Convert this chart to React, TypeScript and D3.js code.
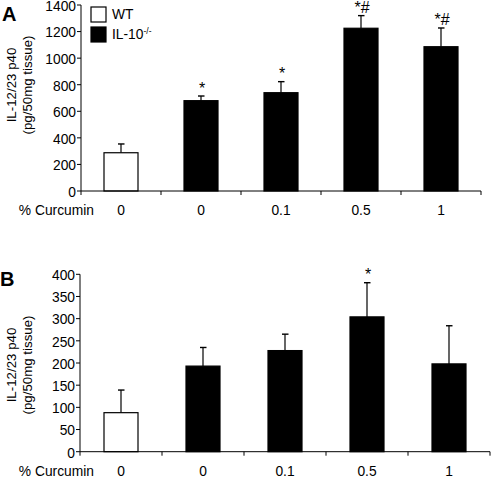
import React from "react";
import * as d3 from "d3";

const categories = ["0", "0", "0.1", "0.5", "1"];
const groups = ["WT", "IL-10", "IL-10", "IL-10", "IL-10"];
const legendItems = ["WT", "IL-10"];

const valuesA = [288, 680, 740, 1225, 1086];
const errorsA = [66, 35, 83, 95, 141];
const marksA = ["", "*", "*", "*#", "*#"];
const ticksA = [0, 200, 400, 600, 800, 1000, 1200, 1400];

const valuesB = [88, 193, 228, 304, 198];
const errorsB = [51, 42, 37, 77, 86];
const marksB = ["", "", "", "*", ""];
const ticksB = [0, 50, 100, 150, 200, 250, 300, 350, 400];

const FONT = "Arial, 'Liberation Sans', Helvetica, sans-serif";
const FS = 13.8;

type PanelProps = {
  letter: string;
  values: number[];
  errors: number[];
  marks: string[];
  ticks: number[];
  yMax: number;
  x0: number;
  x1: number;
  yTop: number;
  yBottom: number;
  labelCenter: number;
  legend?: boolean;
};

function Panel(p: PanelProps) {
  const idx = categories.map((_, i) => String(i));
  const step = (p.x1 - p.x0) / categories.length;
  const barW = 34;
  const pi = 1 - barW / step;
  const x = d3
    .scaleBand<string>()
    .domain(idx)
    .range([p.x0, p.x1])
    .paddingInner(pi)
    .paddingOuter(pi / 2);
  const y = d3.scaleLinear().domain([0, p.yMax]).range([p.yBottom, p.yTop]);
  const labelY = p.yBottom + 19;
  return (
    <g>
      <text x={p.letter === "A" ? 2 : 0} y={p.letter === "A" ? 21 : 286} fontSize={20} fontWeight="bold" fontFamily={FONT}>
        {p.letter}
      </text>
      {/* y label */}
      <g transform={`translate(11,${p.labelCenter}) rotate(-90)`}>
        <text textAnchor="middle" dy="0.35em" fontSize={13.3} fontFamily={FONT}>
          IL-12/23 p40
        </text>
        <text textAnchor="middle" y={16} dy="0.35em" fontSize={13.3} fontFamily={FONT}>
          (pg/50mg tissue)
        </text>
      </g>
      {/* y axis */}
      <line x1={p.x0} x2={p.x0} y1={p.yTop} y2={p.yBottom} stroke="#000" strokeWidth={1} />
      {p.ticks.map((t) => (
        <g key={t}>
          <line x1={p.x0 - 4} x2={p.x0} y1={y(t)} y2={y(t)} stroke="#000" />
          <text x={p.x0 - 5} y={y(t) + 1} dy="0.35em" textAnchor="end" fontSize={FS} fontFamily={FONT}>
            {t}
          </text>
        </g>
      ))}
      {/* bars */}
      {idx.map((k, i) => {
        const bx = x(k)!;
        const cx = bx + x.bandwidth() / 2;
        const top = y(p.values[i]);
        const et = y(p.values[i] + p.errors[i]);
        const wt = groups[i] === "WT";
        return (
          <g key={k}>
            <line x1={cx} x2={cx} y1={top} y2={et} stroke="#000" strokeWidth={1.2} />
            <line x1={cx - 3} x2={cx + 3.5} y1={et} y2={et} stroke="#000" strokeWidth={1.4} />
            <rect
              x={bx}
              y={top}
              width={x.bandwidth()}
              height={p.yBottom - top}
              fill={wt ? "#fff" : "#000"}
              stroke="#000"
              strokeWidth={1.2}
            />
            {p.marks[i] && (
              <text x={cx + 1} y={et - 2.5} textAnchor="middle" fontSize={16} fontFamily={FONT}>
                {p.marks[i]}
              </text>
            )}
            <text x={cx} y={labelY} dy="0.35em" textAnchor="middle" fontSize={FS} fontFamily={FONT}>
              {categories[i]}
            </text>
          </g>
        );
      })}
      {/* x axis */}
      <line x1={p.x0} x2={p.x1} y1={p.yBottom} y2={p.yBottom} stroke="#000" strokeWidth={1} />
      {d3.range(categories.length + 1).map((i) => (
        <line key={i} x1={p.x0 + i * step} x2={p.x0 + i * step} y1={p.yBottom} y2={p.yBottom + 4} stroke="#000" />
      ))}
      <text x={94} y={labelY} dy="0.35em" textAnchor="end" fontSize={FS} fontFamily={FONT}>
        % Curcumin
      </text>
      {p.legend && (
        <g>
          {legendItems.map((g, i) => (
            <g key={g} transform={`translate(91,${7 + i * 20})`}>
              <rect x={0} y={0} width={15} height={15} fill={i === 0 ? "#fff" : "#000"} stroke="#000" strokeWidth={1.2} />
              <text x={21} y={7.5} dy="0.35em" fontSize={FS} fontFamily={FONT}>
                {g}
                {i === 1 && (
                  <tspan fontSize={8.5} dy="-5">
                    -/-
                  </tspan>
                )}
              </text>
            </g>
          ))}
        </g>
      )}
    </g>
  );
}

export default function App() {
  return (
    <svg width={492} height={478} style={{ position: "absolute", left: 0, top: 0, background: "#fff" }}>
      <rect width={492} height={478} fill="#fff" />
      <Panel
        letter="A"
        values={valuesA}
        errors={errorsA}
        marks={marksA}
        ticks={ticksA}
        yMax={1400}
        x0={81}
        x1={481}
        yTop={5}
        yBottom={191}
        labelCenter={85}
        legend
      />
      <Panel
        letter="B"
        values={valuesB}
        errors={errorsB}
        marks={marksB}
        ticks={ticksB}
        yMax={400}
        x0={80}
        x1={490}
        yTop={274.3}
        yBottom={451.7}
        labelCenter={365}
      />
    </svg>
  );
}
